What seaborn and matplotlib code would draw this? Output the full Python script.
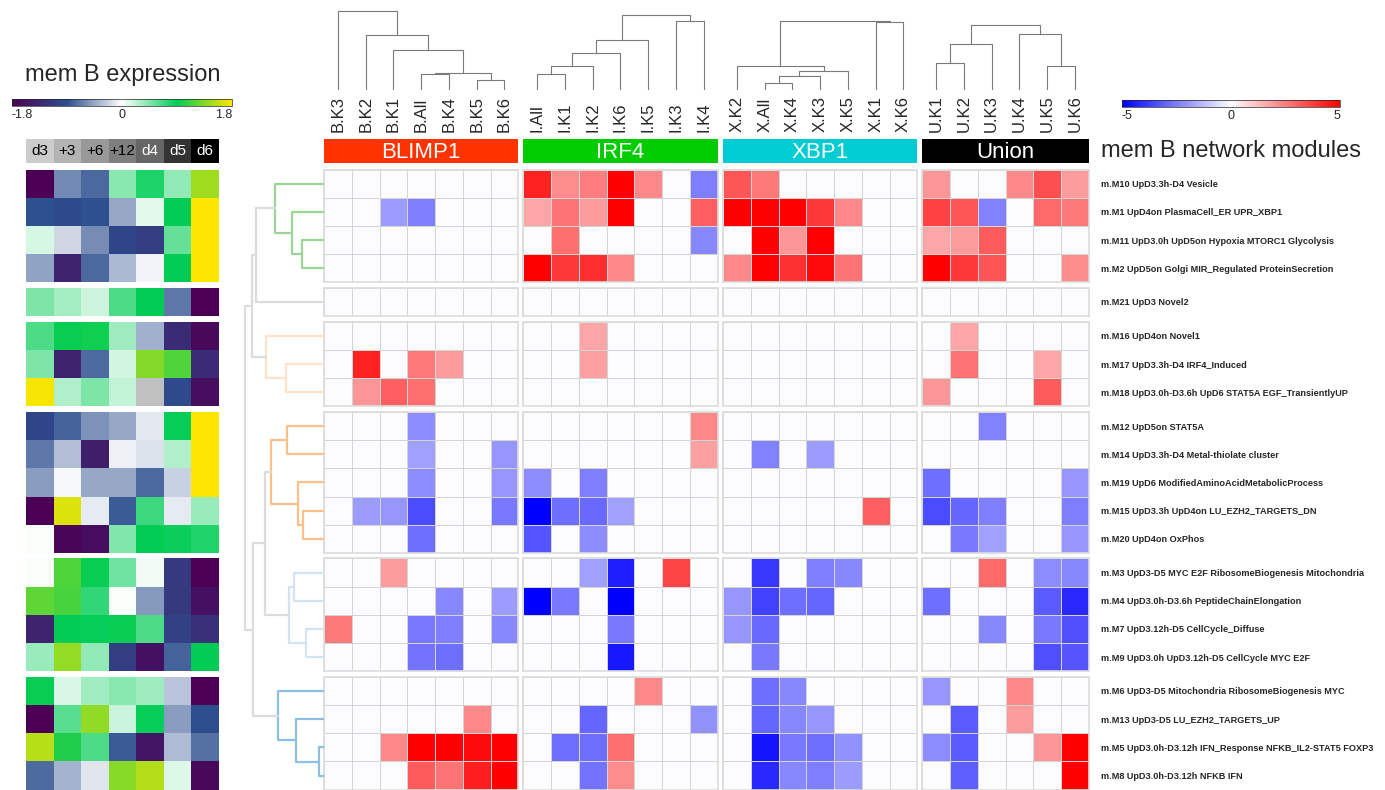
import numpy as np
import pandas as pd
import matplotlib
matplotlib.use('Agg')
import matplotlib.pyplot as plt
from matplotlib.colors import LinearSegmentedColormap, ListedColormap, Normalize
from matplotlib.cm import ScalarMappable
import seaborn as sns

sns.set_style('white')
plt.rcParams['font.family'] = ['Liberation Sans', 'DejaVu Sans']

# ---- data ----
modules = [
    'm.M10 UpD3.3h-D4 Vesicle',
    'm.M1 UpD4on PlasmaCell_ER UPR_XBP1',
    'm.M11 UpD3.0h UpD5on Hypoxia MTORC1 Glycolysis',
    'm.M2 UpD5on Golgi MIR_Regulated ProteinSecretion',
    'm.M21 UpD3 Novel2',
    'm.M16 UpD4on Novel1',
    'm.M17 UpD3.3h-D4 IRF4_Induced',
    'm.M18 UpD3.0h-D3.6h UpD6 STAT5A EGF_TransientlyUP',
    'm.M12 UpD5on STAT5A',
    'm.M14 UpD3.3h-D4 Metal-thiolate cluster',
    'm.M19 UpD6 ModifiedAminoAcidMetabolicProcess',
    'm.M15 UpD3.3h UpD4on LU_EZH2_TARGETS_DN',
    'm.M20 UpD4on OxPhos',
    'm.M3 UpD3-D5 MYC E2F RibosomeBiogenesis Mitochondria',
    'm.M4 UpD3.0h-D3.6h PeptideChainElongation',
    'm.M7 UpD3.12h-D5 CellCycle_Diffuse',
    'm.M9 UpD3.0h UpD3.12h-D5 CellCycle MYC E2F',
    'm.M6 UpD3-D5 Mitochondria RibosomeBiogenesis MYC',
    'm.M13 UpD3-D5 LU_EZH2_TARGETS_UP',
    'm.M5 UpD3.0h-D3.12h IFN_Response NFKB_IL2-STAT5 FOXP3',
    'm.M8 UpD3.0h-D3.12h NFKB IFN',
]
group_sizes = [4, 1, 3, 5, 4, 4]

expr_cols = ['d3', '+3', '+6', '+12', 'd4', 'd5', 'd6']
expr_grays = ['#cccccc', '#b3b3b3', '#999999', '#7f7f7f', '#666666', '#333333', '#000000']
expr_text = ['black', 'black', 'black', 'black', 'white', 'white', 'white']
nan = np.nan
expr = [
    [-1.8, -0.6, -0.77, 0.41, 0.79, 0.39, 1.45],
    [-0.9, -0.95, -0.9, -0.45, 0.11, 0.9, 1.8],
    [0.15, -0.2, -0.59, -1.0, -1.1, 0.54, 1.8],
    [-0.47, -1.4, -0.77, -0.36, -0.07, 0.9, 1.8],
    [0.46, 0.31, 0.18, 0.63, 0.9, -0.68, -1.8],
    [0.63, 0.92, 0.95, 0.35, -0.4, -1.3, -1.7],
    [0.46, -1.4, -0.75, 0.16, 1.36, 1.17, -1.3],
    [1.77, 0.28, 0.45, 0.22, nan, -0.95, -1.65],
    [-1.0, -0.8, -0.55, -0.44, -0.12, 0.88, 1.8],
    [-0.68, -0.33, -1.45, -0.08, -0.15, 0.27, 1.8],
    [-0.5, -0.03, -0.44, -0.44, -0.77, -0.23, 1.8],
    [-1.8, 1.67, -0.1, -0.83, 0.68, -0.1, 0.36],
    [0.02, -1.72, -1.65, 0.44, 0.9, 0.87, 0.78],
    [0.02, 1.17, 0.92, 0.5, 0.05, -1.15, -1.8],
    [1.23, 1.15, 0.72, 0.02, -0.52, -1.15, -1.6],
    [-1.4, 0.9, 0.88, 0.92, 0.62, -1.05, -1.25],
    [0.36, 1.42, 0.38, -1.1, -1.6, -0.8, 0.9],
    [0.92, 0.14, 0.33, 0.42, 0.35, -0.3, -1.8],
    [-1.8, 0.58, 1.4, 0.19, 0.88, -0.5, -0.92],
    [1.54, 1.0, 0.63, -0.83, -1.55, -0.35, -0.72],
    [-0.75, -0.38, -0.14, 1.37, 1.52, 0.12, -1.7],
]

blimp1_cols = ['B.K3', 'B.K2', 'B.K1', 'B.All', 'B.K4', 'B.K5', 'B.K6']
blimp1 = [
    [0, 0, 0, 0, 0, 0, 0],
    [0, 0, -1.9, -2.5, 0, 0, 0],
    [0, 0, 0, 0, 0, 0, 0],
    [0, 0, 0, 0, 0, 0, 0],
    [0, 0, 0, 0, 0, 0, 0],
    [0, 0, 0, 0, 0, 0, 0],
    [0, 4.3, 0, 2.6, 1.9, 0, 0],
    [0, 2.0, 3.1, 2.8, 0, 0, 0],
    [0, 0, 0, -2.2, 0, 0, 0],
    [0, 0, 0, -1.8, 0, 0, -2.0],
    [0, 0, 0, -2.2, 0, 0, -2.0],
    [0, -1.9, -2.0, -3.5, 0, 0, -2.6],
    [0, 0, 0, -2.8, 0, 0, 0],
    [0, 0, 1.9, 0, 0, 0, 0],
    [0, 0, 0, 0, -2.3, 0, -1.9],
    [2.6, 0, 0, -2.6, -2.5, 0, -2.3],
    [0, 0, 0, -2.7, -2.8, 0, 0],
    [0, 0, 0, 0, 0, 0, 0],
    [0, 0, 0, 0, 0, 2.3, 0],
    [0, 0, 2.3, 5, 5, 4.8, 5],
    [0, 0, 0, 3.2, 2.7, 4.4, 5],
]

irf4_cols = ['I.All', 'I.K1', 'I.K2', 'I.K6', 'I.K5', 'I.K3', 'I.K4']
irf4 = [
    [4.3, 2.2, 2.5, 5, 2.3, 0, -2.5],
    [1.7, 2.7, 1.9, 5, 0, 0, 3.1],
    [0, 2.8, 0, 0, 0, 0, -2.3],
    [5, 3.9, 4.1, 2.3, 0, 0, 0],
    [0, 0, 0, 0, 0, 0, 0],
    [0, 0, 1.7, 0, 0, 0, 0],
    [0, 0, 1.8, 0, 0, 0, 0],
    [0, 0, 0, 0, 0, 0, 0],
    [0, 0, 0, 0, 0, 0, 2.3],
    [0, 0, 0, 0, 0, 0, 1.8],
    [-2.2, 0, -2.5, 0, 0, 0, 0],
    [-5, -2.8, -2.9, -1.8, 0, 0, 0],
    [-3.3, 0, -2.2, 0, 0, 0, 0],
    [0, 0, -1.8, -4.4, 0, 3.6, 0],
    [-5, -2.6, 0, -5, 0, 0, 0],
    [0, 0, 0, -2.6, 0, 0, 0],
    [0, 0, 0, -4.5, 0, 0, 0],
    [0, 0, 0, 0, 2.3, 0, 0],
    [0, 0, -3.0, 0, 0, 0, -2.1],
    [0, -2.8, -2.8, 2.8, 0, 0, 0],
    [0, 0, -2.7, 2.2, 0, 0, 0],
]

xbp1_cols = ['X.K2', 'X.All', 'X.K4', 'X.K3', 'X.K5', 'X.K1', 'X.K6']
xbp1 = [
    [3.3, 2.6, 0, 0, 0, 0, 0],
    [5, 5, 5, 3.9, 2.3, 0, 0],
    [0, 5, 2.0, 5, 0, 0, 0],
    [2.3, 5, 4.0, 4.8, 2.7, 0, 0],
    [0, 0, 0, 0, 0, 0, 0],
    [0, 0, 0, 0, 0, 0, 0],
    [0, 0, 0, 0, 0, 0, 0],
    [0, 0, 0, 0, 0, 0, 0],
    [0, 0, 0, 0, 0, 0, 0],
    [0, -2.4, 0, -1.9, 0, 0, 0],
    [0, 0, 0, 0, 0, 0, 0],
    [0, 0, 0, 0, 0, 3.1, 0],
    [0, 0, 0, 0, 0, 0, 0],
    [0, -3.9, 0, -2.5, -2.3, 0, 0],
    [-2.0, -3.7, -2.8, -3.0, 0, 0, 0],
    [-2.0, -2.9, 0, 0, 0, 0, 0],
    [0, -2.6, 0, 0, 0, 0, 0],
    [0, -2.8, -2.3, 0, 0, 0, 0],
    [0, -3.0, -2.3, -2.0, 0, 0, 0],
    [0, -4.6, -2.6, -2.8, -2.1, 0, 0],
    [0, -4.2, -2.3, -2.5, -1.9, 0, 0],
]

union_cols = ['U.K1', 'U.K2', 'U.K3', 'U.K4', 'U.K5', 'U.K6']
union = [
    [2.0, 0, 0, 2.3, 3.4, 1.9],
    [3.7, 3.3, -2.4, 0, 2.9, 2.6],
    [1.7, 1.9, 3.2, 0, 0, 0],
    [5, 3.9, 3.3, 0, 0, 2.2],
    [0, 0, 0, 0, 0, 0],
    [0, 1.7, 0, 0, 0, 0],
    [0, 2.7, 0, 0, 1.7, 0],
    [2.0, 0, 0, 0, 3.2, 0],
    [0, 0, -2.4, 0, 0, 0],
    [0, 0, 0, 0, 0, 0],
    [-2.8, 0, 0, 0, 0, -2.0],
    [-3.5, -3.0, -2.5, 0, 0, -2.5],
    [0, -2.6, -1.8, 0, 0, -2.0],
    [0, 0, 2.9, 0, -2.2, -2.3],
    [-2.8, 0, 0, 0, -3.2, -4.2],
    [0, 0, -2.3, 0, -2.6, -3.4],
    [0, 0, 0, 0, -3.4, -3.3],
    [-2.0, 0, 0, 2.3, 0, 0],
    [0, -3.2, 0, 1.9, 0, 0],
    [-2.2, -3.2, 0, 0, 2.0, 5],
    [0, -3.1, 0, 0, 0, 5],
]

# dendrogram merges (child a, child b, height); ids >= n are earlier merges
blimp1_tree = [(5, 6, 9.7), (3, 4, 15.7), (8, 7, 16.7), (2, 9, 39.7), (1, 10, 55), (0, 11, 79.3)]
irf4_tree = [(0, 1, 15.7), (7, 2, 23.7), (8, 3, 36.7), (9, 4, 49.7), (5, 6, 68.7), (10, 11, 74.7)]
xbp1_tree = [(1, 2, 7), (7, 3, 13.7), (8, 4, 18.7), (0, 9, 24), (5, 6, 68.5), (10, 11, 68.8)]
union_tree = [(0, 1, 26.7), (6, 2, 45.7), (4, 5, 24), (3, 8, 56.3), (7, 9, 64.7)]

row_tree = [(2, 3, 21.7), (1, 21, 31.7), (0, 22, 48.7), (23, 4, 67.7),
            (6, 7, 37.7), (5, 25, 57.7), (24, 26, 71.7),
            (8, 9, 36.7), (11, 12, 20.7), (10, 29, 25.7), (28, 30, 52.7),
            (13, 14, 29.7), (15, 16, 17.7), (32, 33, 34.7), (31, 34, 58.7),
            (19, 20, 5), (18, 36, 28.3), (17, 37, 45.7), (35, 38, 70.7), (27, 39, 78.7)]
row_tree_colors = ['#9dd49a', '#9dd49a', '#9dd49a', '#dcdcdc',
                   '#fde3c8', '#fde3c8', '#dcdcdc',
                   '#fdc08a', '#fdc08a', '#fdc08a', '#fdc08a',
                   '#d3e3f2', '#d3e3f2', '#d3e3f2', '#dcdcdc',
                   '#8cbfe0', '#8cbfe0', '#8cbfe0', '#dcdcdc', '#dcdcdc']

expr_cmap = LinearSegmentedColormap.from_list('memb', ['#4b0055', '#2c4f8e', '#ffffff', '#00cc55', '#ffe600'])
net_cmap = LinearSegmentedColormap.from_list('net', ['#0000ff', '#fcfcfe', '#ff0000'])

blocks = [
    ('BLIMP1', blimp1_cols, blimp1, blimp1_tree, '#ff3300', 324),
    ('IRF4', irf4_cols, irf4, irf4_tree, '#00cc00', 523.3),
    ('XBP1', xbp1_cols, xbp1, xbp1_tree, '#00ccd2', 723),
    ('Union', union_cols, union, union_tree, '#000000', 922.3),
]

# ---- layout (pixels) ----
W, H = 1385, 790
fig = plt.figure(figsize=(W / 100, H / 100), dpi=100)


def box(x, y, w, h):
    return fig.add_axes([x / W, 1 - (y + h) / H, w / W, h / H])


def tree_segments(pos, tree):
    pos = dict(enumerate(pos))
    heights = {i: 0 for i in pos}
    n = len(pos)
    segs = []
    for k, (a, b, h) in enumerate(tree):
        segs.append(([pos[a], pos[a], pos[b], pos[b]], [heights[a], h, h, heights[b]]))
        pos[n + k] = (pos[a] + pos[b]) / 2
        heights[n + k] = h
    return segs


top, rh, gap, cw = 169.5, 28.2, 5.6, 27.76
starts = np.cumsum([0] + group_sizes)
group_tops = [top + starts[g] * rh + g * gap for g in range(len(group_sizes))]
total_h = sum(group_sizes) * rh + (len(group_sizes) - 1) * gap

expr_df = pd.DataFrame(expr, index=modules, columns=expr_cols)

# left expression heatmap
for g, n in enumerate(group_sizes):
    ax = box(26, group_tops[g], 193, n * rh)
    sns.heatmap(expr_df.iloc[starts[g]:starts[g + 1]], ax=ax, cmap=expr_cmap, vmin=-1.8, vmax=1.8,
                cbar=False, xticklabels=False, yticklabels=False)
    ax.set_facecolor('#c0c0c0')

hax = box(26, 139, 193, 24)
sns.heatmap(pd.DataFrame([list(range(7))], columns=expr_cols), ax=hax, cmap=ListedColormap(expr_grays),
            cbar=False, xticklabels=False, yticklabels=False)
for i, (lab, col) in enumerate(zip(expr_cols, expr_text)):
    hax.text(i + 0.5, 0.5, lab, color=col, ha='center', va='center', fontsize=11)

fig.text(123 / W, 1 - 75 / H, 'mem B expression', ha='center', va='center', fontsize=17)
cax1 = box(12, 99, 220, 7)
cb1 = fig.colorbar(ScalarMappable(norm=Normalize(-1.8, 1.8), cmap=expr_cmap), cax=cax1,
                   orientation='horizontal', ticks=[-1.8, 0, 1.8])
cax1.set_xticklabels(['-1.8', '0', '1.8'])
cax1.tick_params(labelsize=9, length=0, pad=2)
cax1.get_xticklabels()[0].set_ha('left')
cax1.get_xticklabels()[-1].set_ha('right')
cb1.outline.set_linewidth(0.5)

# main network heatmaps
for name, cols, vals, tree, color, x0 in blocks:
    df = pd.DataFrame(vals, index=modules, columns=cols)
    ncol = len(cols)
    last = name == 'Union'
    for g, n in enumerate(group_sizes):
        ax = box(x0, group_tops[g], ncol * cw, n * rh)
        sub = df.iloc[starts[g]:starts[g + 1]]
        sns.heatmap(sub, ax=ax, cmap=net_cmap, vmin=-5, vmax=5, cbar=False,
                    linewidths=0.5, linecolor='#d4d4d4', xticklabels=False, yticklabels=last)
        for sp in ax.spines.values():
            sp.set_visible(True)
            sp.set_color('#dcdcdc')
            sp.set_linewidth(1.2)
        if last:
            ax.yaxis.tick_right()
            ax.set_yticklabels(sub.index, rotation=0, fontsize=6.6, fontweight='bold')
            ax.tick_params(axis='y', length=0, pad=9)
            ax.set_ylabel('')

    ab = box(x0, 139, ncol * cw, 24)
    ab.set_facecolor(color)
    ab.set_xlim(0, ncol)
    ab.set_xticks(np.arange(ncol) + 0.5)
    ab.set_xticklabels(cols, rotation=90, fontsize=12)
    ab.xaxis.tick_top()
    ab.tick_params(length=0, pad=5)
    ab.set_yticks([])
    for sp in ab.spines.values():
        sp.set_visible(False)
    ab.text(0.5, 0.45, name, transform=ab.transAxes, color='white', ha='center', va='center', fontsize=16)

    dax = box(x0, 10, ncol * cw, 80)
    for xs, ys in tree_segments(list(np.arange(ncol) + 0.5), tree):
        dax.plot(xs, ys, color='#7a7a7a', lw=0.8)
    dax.set_xlim(0, ncol)
    dax.set_ylim(0, 80)
    dax.axis('off')

# row dendrogram
leaf_y = []
for g, n in enumerate(group_sizes):
    for i in range(n):
        leaf_y.append(group_tops[g] - top + (i + 0.5) * rh)
rax = box(244, top, 80, total_h)
for (xs, ys), c in zip(tree_segments(leaf_y, row_tree), row_tree_colors):
    rax.plot(ys, xs, color=c, lw=1.6)
rax.set_xlim(80, 0)
rax.set_ylim(total_h, 0)
rax.axis('off')

fig.text(1101 / W, 1 - 151 / H, 'mem B network modules', ha='left', va='center', fontsize=17)
cax2 = box(1122, 100, 218, 7)
cb2 = fig.colorbar(ScalarMappable(norm=Normalize(-5, 5), cmap=net_cmap), cax=cax2,
                   orientation='horizontal', ticks=[-5, 0, 5])
cax2.set_xticklabels(['-5', '0', '5'])
cax2.tick_params(labelsize=9, length=0, pad=2)
cax2.get_xticklabels()[0].set_ha('left')
cax2.get_xticklabels()[-1].set_ha('right')
cb2.outline.set_linewidth(0.5)

fig.savefig('out.png', dpi=100)
